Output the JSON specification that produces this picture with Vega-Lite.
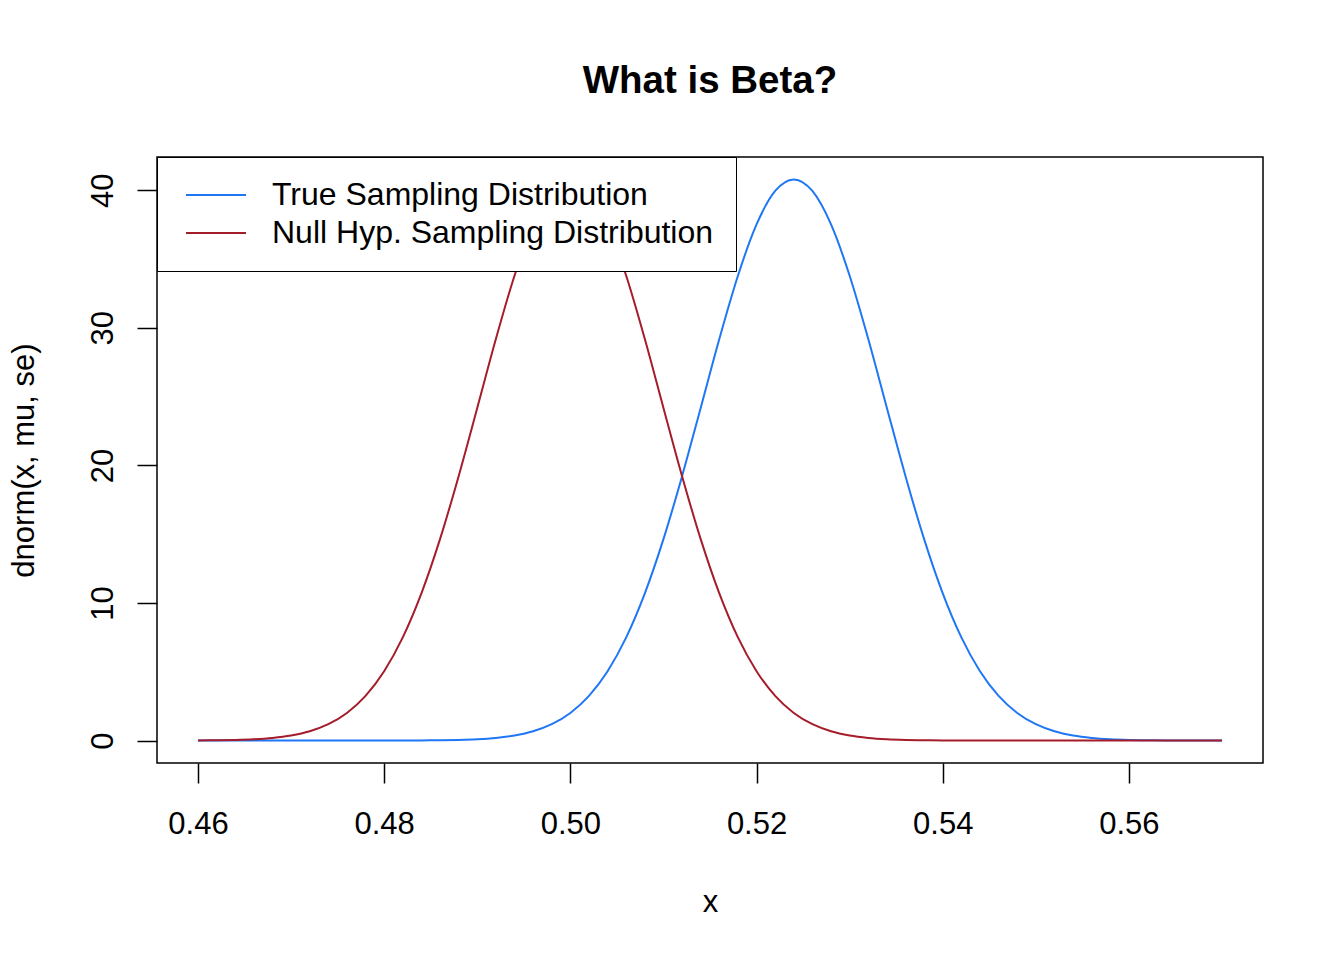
{
  "$schema": "https://vega.github.io/schema/vega-lite/v6.json",
  "description": "What is Beta? - true vs null hypothesis sampling distributions",
  "width": 1106,
  "height": 606,
  "autosize": "none",
  "padding": {"left": 157, "top": 157, "right": 81, "bottom": 197},
  "background": "white",
  "title": {
    "text": "What is Beta?",
    "fontSize": 38.5,
    "fontWeight": "bold",
    "anchor": "middle",
    "baseline": "alphabetic",
    "offset": 25,
    "color": "black"
  },
  "data": {
    "values": [
      {"x": 0.460, "True": 0, "Null": 0.0095},
      {"x": 0.462, "True": 0, "Null": 0.0215},
      {"x": 0.464, "True": 0, "Null": 0.0466},
      {"x": 0.466, "True": 0, "Null": 0.0968},
      {"x": 0.468, "True": 0, "Null": 0.1932},
      {"x": 0.470, "True": 0, "Null": 0.3693},
      {"x": 0.472, "True": 0, "Null": 0.6771},
      {"x": 0.474, "True": 0.0001, "Null": 1.191},
      {"x": 0.476, "True": 0.0002, "Null": 2.008},
      {"x": 0.478, "True": 0.0006, "Null": 3.249},
      {"x": 0.480, "True": 0.0016, "Null": 5.040},
      {"x": 0.482, "True": 0.0040, "Null": 7.498},
      {"x": 0.484, "True": 0.0095, "Null": 10.70},
      {"x": 0.486, "True": 0.0215, "Null": 14.64},
      {"x": 0.488, "True": 0.0466, "Null": 19.22},
      {"x": 0.490, "True": 0.0968, "Null": 24.18},
      {"x": 0.492, "True": 0.1932, "Null": 29.19},
      {"x": 0.494, "True": 0.3693, "Null": 33.79},
      {"x": 0.496, "True": 0.6771, "Null": 37.52},
      {"x": 0.498, "True": 1.191, "Null": 39.95},
      {"x": 0.500, "True": 2.008, "Null": 40.79},
      {"x": 0.502, "True": 3.249, "Null": 39.95},
      {"x": 0.504, "True": 5.040, "Null": 37.52},
      {"x": 0.506, "True": 7.498, "Null": 33.79},
      {"x": 0.508, "True": 10.70, "Null": 29.19},
      {"x": 0.510, "True": 14.64, "Null": 24.18},
      {"x": 0.512, "True": 19.22, "Null": 19.22},
      {"x": 0.514, "True": 24.18, "Null": 14.64},
      {"x": 0.516, "True": 29.19, "Null": 10.70},
      {"x": 0.518, "True": 33.79, "Null": 7.498},
      {"x": 0.520, "True": 37.52, "Null": 5.040},
      {"x": 0.522, "True": 39.95, "Null": 3.249},
      {"x": 0.524, "True": 40.79, "Null": 2.008},
      {"x": 0.526, "True": 39.95, "Null": 1.191},
      {"x": 0.528, "True": 37.52, "Null": 0.6771},
      {"x": 0.530, "True": 33.79, "Null": 0.3693},
      {"x": 0.532, "True": 29.19, "Null": 0.1932},
      {"x": 0.534, "True": 24.18, "Null": 0.0968},
      {"x": 0.536, "True": 19.22, "Null": 0.0466},
      {"x": 0.538, "True": 14.64, "Null": 0.0215},
      {"x": 0.540, "True": 10.70, "Null": 0.0095},
      {"x": 0.542, "True": 7.498, "Null": 0.0040},
      {"x": 0.544, "True": 5.040, "Null": 0.0016},
      {"x": 0.546, "True": 3.249, "Null": 0.0006},
      {"x": 0.548, "True": 2.008, "Null": 0.0002},
      {"x": 0.550, "True": 1.191, "Null": 0.0001},
      {"x": 0.552, "True": 0.6771, "Null": 0},
      {"x": 0.554, "True": 0.3693, "Null": 0},
      {"x": 0.556, "True": 0.1932, "Null": 0},
      {"x": 0.558, "True": 0.0968, "Null": 0},
      {"x": 0.560, "True": 0.0466, "Null": 0},
      {"x": 0.562, "True": 0.0215, "Null": 0},
      {"x": 0.564, "True": 0.0095, "Null": 0},
      {"x": 0.566, "True": 0.0040, "Null": 0},
      {"x": 0.568, "True": 0.0016, "Null": 0},
      {"x": 0.570, "True": 0.0006, "Null": 0}
    ]
  },
  "transform": [
    {"fold": ["True", "Null"], "as": ["curve", "density"]}
  ],
  "mark": {"type": "line", "strokeWidth": 2, "interpolate": "monotone"},
  "encoding": {
    "x": {
      "field": "x",
      "type": "quantitative",
      "title": "x",
      "scale": {"domain": [0.4556, 0.5744], "nice": false, "zero": false},
      "axis": {
        "values": [0.46, 0.48, 0.5, 0.52, 0.54, 0.56],
        "format": ".2f",
        "labelPadding": 26,
        "titlePadding": 48
      }
    },
    "y": {
      "field": "density",
      "type": "quantitative",
      "title": "dnorm(x, mu, se)",
      "scale": {"domain": [-1.632, 42.42], "nice": false, "zero": false},
      "axis": {
        "values": [0, 10, 20, 30, 40],
        "format": "d",
        "labelAngle": -90,
        "labelPadding": 18,
        "titlePadding": 47
      }
    },
    "color": {
      "field": "curve",
      "type": "nominal",
      "scale": {"domain": ["True", "Null"], "range": ["#1F77F5", "#A51C2A"]},
      "legend": {
        "title": null,
        "orient": "top-left",
        "offset": 0,
        "padding": 22,
        "fillColor": "white",
        "strokeColor": "black",
        "cornerRadius": 0,
        "symbolType": "M-2,0H2",
        "symbolSize": 900,
        "symbolOffset": 21,
        "symbolStrokeWidth": 2,
        "labelFontSize": 32,
        "labelOffset": 40,
        "labelLimit": 700,
        "labelColor": "black",
        "rowPadding": 6,
        "labelExpr": "datum.label == 'True' ? 'True Sampling Distribution' : 'Null Hyp. Sampling Distribution'"
      }
    }
  },
  "config": {
    "font": "Liberation Sans",
    "view": {"stroke": "black", "strokeWidth": 1.5},
    "axis": {
      "domain": false,
      "grid": false,
      "ticks": true,
      "tickSize": 20,
      "tickWidth": 1.5,
      "tickColor": "black",
      "labelFontSize": 31,
      "labelColor": "black",
      "titleFontSize": 31,
      "titleFontWeight": "normal",
      "titleColor": "black"
    }
  }
}
